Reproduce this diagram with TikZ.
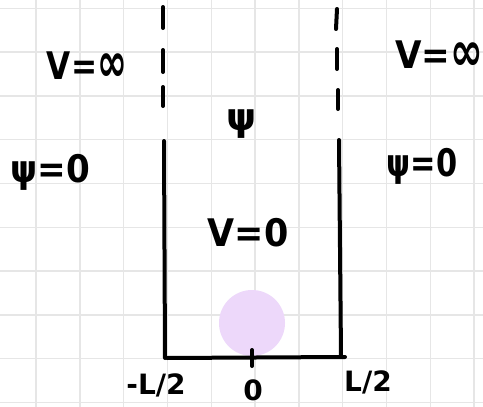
\documentclass[tikz,border=0pt]{standalone}
\usepackage{fontspec}
\setmainfont{DejaVu Sans}
\definecolor{gridgray}{HTML}{E6E6E6}
\definecolor{lavender}{HTML}{EDD8FA}
\newcommand{\biginf}{\raisebox{-0.05em}{\scalebox{1.15}[1.45]{∞}}}
\begin{document}
\begin{tikzpicture}[x=1pt,y=-1pt,
  gridline/.style={draw=gridgray, line width=1.4pt},
  wall/.style={line width=4pt, line cap=round},
  lab/.style={font=\fontsize{38}{38}\selectfont\bfseries, inner sep=0pt},
  axlab/.style={font=\fontsize{28}{28}\selectfont\bfseries, inner sep=0pt}]
\useasboundingbox (0,0) rectangle (483,407);
\fill[white] (0,0) rectangle (483,407);
\foreach \k in {0,...,10} \draw[gridline] ({36+43.8*\k},0) -- ({36+43.8*\k},407);
\foreach \k in {0,...,9} \draw[gridline] (0,{8.3+43.8*\k}) -- (483,{8.3+43.8*\k});
\fill[lavender] (252,323) circle (33);
% walls
\coordinate (lt) at (164,141);
\coordinate (lb) at (165,358);
\coordinate (rt) at (339,140);
\coordinate (rb) at (341,355);
\coordinate (bl) at (167,358);
\coordinate (br) at (345,357);
\coordinate (tt) at (252,350);
\coordinate (tb) at (252,366);
\draw[wall] (lt) -- (lb);
\draw[wall] (rt) -- (rb);
\draw[wall] (bl) -- (br);
\draw[wall] (tt) -- (tb);
% dashed continuations
\draw[wall] (163,7) -- (163,28);
\draw[wall] (163,50) -- (163,72);
\draw[wall] (163,87) -- (163,106);
\draw[wall] (337,9) -- (336,29);
\draw[wall] (337,49) -- (337,69);
\draw[wall] (338,90) -- (338,109);
% labels
\node[lab] (vinfl) at (87,67) {\scalebox{0.82}[1]{V=\biginf}};
\node[lab] (vinfr) at (439,56) {\scalebox{0.9}[1]{V=\biginf}};
\node[lab] (psil) at (50,172) {\scalebox{0.9}[1]{ψ=0}};
\node[lab] (psir) at (422,166) {\scalebox{0.8}[1]{ψ=0}};
\node[lab] (psi) at (242,124) {ψ};
\node[lab] (vzero) at (248,233) {\scalebox{0.92}[1]{V=0}};
\node[axlab] (ml) at (156,385) {-L/2};
\node[axlab] (zero) at (253,390) {0};
\node[axlab] (pl) at (368,382) {L/2};
\end{tikzpicture}
\end{document}
